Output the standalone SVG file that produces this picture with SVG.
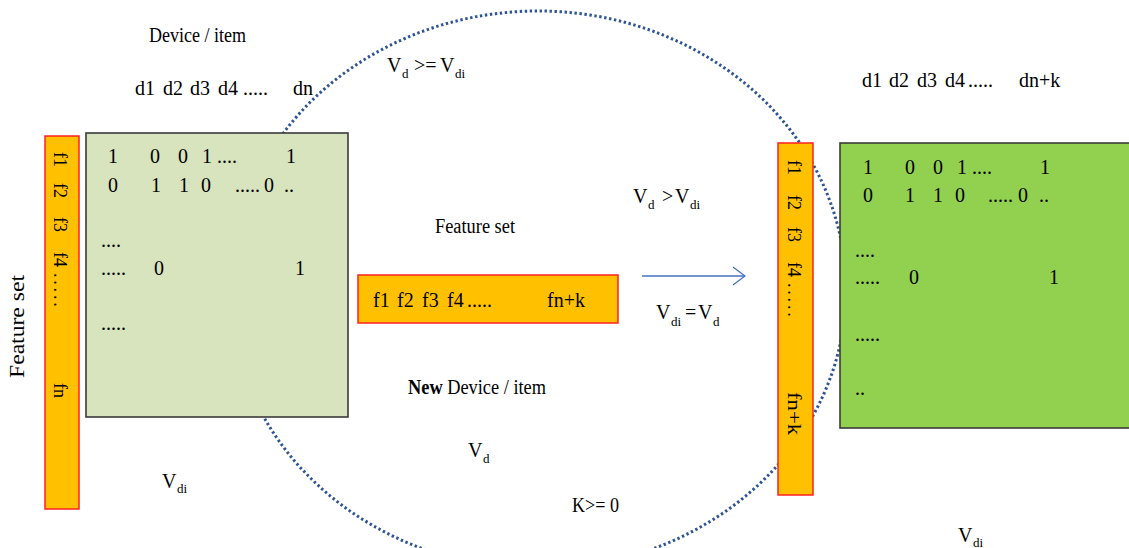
<svg xmlns="http://www.w3.org/2000/svg" width="1129" height="548" viewBox="0 0 1129 548">
<style>
.t{font-family:"Liberation Serif","Times New Roman",serif;font-size:20px;fill:#000}
.s{font-family:"Liberation Serif","Times New Roman",serif;font-size:13px;fill:#000}
.r{font-family:"Liberation Serif","Times New Roman",serif;font-size:18px;fill:#000}
.bar{fill:#FFC000;stroke:#FF2020;stroke-width:1.5}
.mat{stroke:#3a3a3a;stroke-width:1.6}
</style>
<defs>
<marker id="ah" viewBox="0 0 14 20" refX="13" refY="10" markerWidth="14" markerHeight="20" markerUnits="userSpaceOnUse" orient="auto">
<path d="M1,1 L13,10 L1,19" fill="none" stroke="#4472C4" stroke-width="1.3"/>
</marker>
</defs>
<rect width="1129" height="548" fill="#fff"/>

<g id="scope-ellipse">
<ellipse cx="538" cy="290" rx="308" ry="279" fill="none" stroke="#2F5496" stroke-width="3" stroke-dasharray="2.4 2.6"/>
</g>

<g id="labels">
<text class="t" x="149" y="42" textLength="97" lengthAdjust="spacingAndGlyphs">Device / item</text>
<text class="t" y="95"><tspan x="135">d1</tspan><tspan x="163">d2</tspan><tspan x="190">d3</tspan><tspan x="218">d4</tspan><tspan x="243">.....</tspan><tspan x="293">dn</tspan></text>
<text class="t" y="87"><tspan x="862">d1</tspan><tspan x="889">d2</tspan><tspan x="917">d3</tspan><tspan x="945">d4</tspan><tspan x="968">.....</tspan><tspan x="1019">dn+k</tspan></text>
<text class="t" y="72"><tspan x="387">V</tspan><tspan class="s" x="402" y="78">d</tspan><tspan x="414" y="72">&gt;=</tspan><tspan x="440">V</tspan><tspan class="s" x="455" y="78">di</tspan></text>
<text class="t" y="203"><tspan x="633">V</tspan><tspan class="s" x="648" y="209">d</tspan><tspan x="662" y="203">&gt;</tspan><tspan x="675">V</tspan><tspan class="s" x="690" y="209">di</tspan></text>
<text class="t" y="319"><tspan x="656">V</tspan><tspan class="s" x="671" y="326">di</tspan><tspan x="685" y="319">=</tspan><tspan x="698">V</tspan><tspan class="s" x="713" y="326">d</tspan></text>
<text class="t" x="435" y="233" textLength="80" lengthAdjust="spacingAndGlyphs">Feature set</text>
<text class="t" x="408" y="394" textLength="138" lengthAdjust="spacingAndGlyphs"><tspan font-weight="bold">New</tspan> Device / item</text>
<text class="t" y="457"><tspan x="468">V</tspan><tspan class="s" x="483" y="463">d</tspan></text>
<text class="t" y="488"><tspan x="162">V</tspan><tspan class="s" x="177" y="493">di</tspan></text>
<text class="t" y="542"><tspan x="958">V</tspan><tspan class="s" x="973" y="547">di</tspan></text>
<text class="t" x="572" y="512" textLength="47" lengthAdjust="spacingAndGlyphs">K&gt;= 0</text>
<text class="t" transform="translate(24,0) rotate(-90)" x="-378" y="0" textLength="103" lengthAdjust="spacingAndGlyphs">Feature set</text>
</g>

<g id="left-feature-bar">
<rect class="bar" x="45" y="136" width="34" height="373"/>
<g transform="translate(54,0) rotate(90)">
<text class="r" x="152" y="0">f1</text>
<text class="r" x="183" y="0">f2</text>
<text class="r" x="217" y="0">f3</text>
<text class="r" x="252" y="0">f4</text>
<text class="r" x="273" y="0" letter-spacing="2.8">.....</text>
<text class="r" x="383" y="0">fn</text>
</g>
</g>

<g id="left-matrix">
<rect class="mat" x="86" y="133" width="262" height="284" fill="#D7E4BD"/>
<text class="t" y="163"><tspan x="108">1</tspan><tspan x="150">0</tspan><tspan x="178">0</tspan><tspan x="202">1 ....</tspan><tspan x="286">1</tspan></text>
<text class="t" y="192"><tspan x="108">0</tspan><tspan x="151">1</tspan><tspan x="179">1</tspan><tspan x="201">0</tspan><tspan x="235">.....</tspan><tspan x="264">0</tspan><tspan x="284">..</tspan></text>
<text class="t" x="101" y="247">....</text>
<text class="t" y="275"><tspan x="101">.....</tspan><tspan x="154">0</tspan><tspan x="295">1</tspan></text>
<text class="t" x="101" y="330">.....</text>
</g>

<g id="new-feature-bar">
<rect class="bar" x="358" y="275" width="260" height="48"/>
<text class="t" y="307"><tspan x="373">f1</tspan><tspan x="397">f2</tspan><tspan x="422">f3</tspan><tspan x="447">f4</tspan><tspan x="467">.....</tspan><tspan x="547">fn+k</tspan></text>
</g>

<g id="right-feature-bar">
<rect class="bar" x="778" y="143" width="35" height="352"/>
<g transform="translate(788,0) rotate(90)">
<text class="r" x="160" y="0">f1</text>
<text class="r" x="195" y="0">f2</text>
<text class="r" x="227" y="0">f3</text>
<text class="r" x="262" y="0">f4</text>
<text class="r" x="283" y="0" letter-spacing="2.8">.....</text>
<text class="r" x="392" y="0" textLength="43" lengthAdjust="spacingAndGlyphs">fn+k</text>
</g>
</g>

<g id="right-matrix">
<rect class="mat" x="840" y="143" width="300" height="285" fill="#92D050"/>
<text class="t" y="174"><tspan x="863">1</tspan><tspan x="905">0</tspan><tspan x="933">0</tspan><tspan x="957">1 ....</tspan><tspan x="1040">1</tspan></text>
<text class="t" y="202"><tspan x="863">0</tspan><tspan x="905">1</tspan><tspan x="933">1</tspan><tspan x="955">0</tspan><tspan x="988">.....</tspan><tspan x="1018">0</tspan><tspan x="1039">..</tspan></text>
<text class="t" x="855" y="257">....</text>
<text class="t" y="284"><tspan x="855">.....</tspan><tspan x="909">0</tspan><tspan x="1049">1</tspan></text>
<text class="t" x="855" y="341">.....</text>
<text class="t" x="855" y="395">..</text>
</g>

<g id="connectors">
<line x1="642" y1="276" x2="745" y2="276" stroke="#4472C4" stroke-width="1.3" marker-end="url(#ah)"/>
</g>
</svg>
